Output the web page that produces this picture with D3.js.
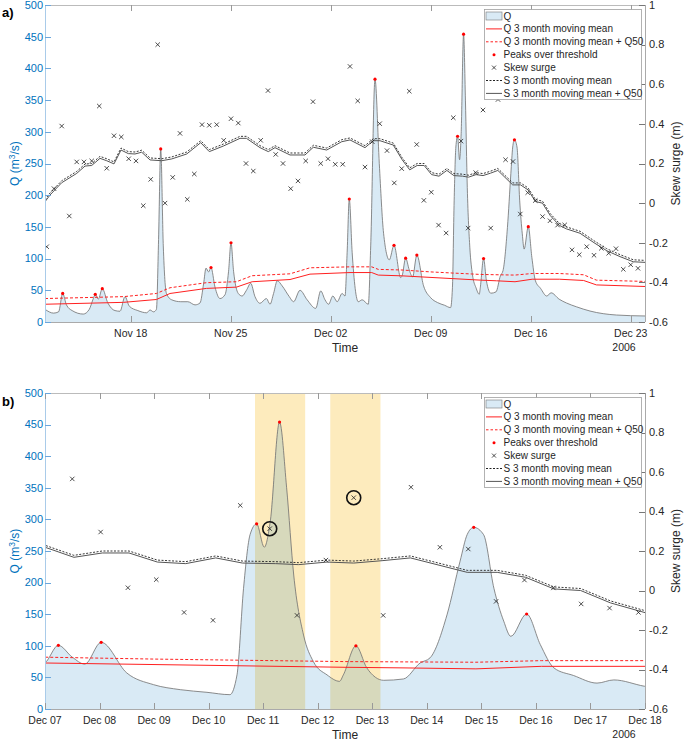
<!DOCTYPE html>
<html><head><meta charset="utf-8">
<script src="https://cdn.jsdelivr.net/npm/d3@7"></script>
<style>body{margin:0;background:#fff}svg text{font-family:"Liberation Sans",Arial,Helvetica,sans-serif}</style>
</head><body><svg id="c" width="685" height="741"></svg>
<script>
// ---------- DATA (day offsets from 2006-11-12 00:00 UTC) ----------
const qSeries = [[0,20],[0.6,14],[0.95,16],[1.24,45],[1.5,27],[1.9,18],[2.68,12.5],[3.1,20],[3.35,35],[3.52,43.6],[3.73,36],[4.01,52.5],[4.4,30],[4.9,18],[5.25,17],[5.6,40],[5.9,25],[6.5,18],[7.12,14.5],[7.35,19],[7.6,16],[7.8,20],[7.95,130],[8.1,273],[8.28,120],[8.5,45],[8.87,35],[9.5,32],[10.0,32],[10.5,27],[10.85,30],[11.1,60],[11.27,85],[11.45,79],[11.62,86],[11.9,55],[12.25,37],[12.6,43],[12.85,80],[13.02,125],[13.2,80],[13.53,45],[13.8,41],[14.1,50],[14.4,61],[14.7,40],[15.05,29.5],[15.5,37],[15.75,28],[16.0,45],[16.26,65],[16.6,57],[17.1,40],[17.4,32],[17.85,50],[18.35,35],[18.95,21.5],[19.3,49],[19.6,35],[19.85,28],[20.15,41],[20.45,32],[20.8,45],[21.0,41],[21.15,110],[21.3,194],[21.5,110],[21.93,32],[22.2,35],[22.63,28],[22.8,120],[23.1,383],[23.4,250],[23.7,140],[24.1,98],[24.43,121],[24.9,70],[25.0,73],[25.245,100.7],[25.5,82],[25.73,71],[26.03,105.5],[26.5,57],[26.99,38.5],[27.48,30.6],[27.97,26.4],[28.39,22.7],[28.52,54],[28.64,191],[28.76,276],[28.88,293],[29.02,256],[29.13,297],[29.3,454],[29.43,350],[29.56,212],[29.74,117],[29.92,75],[30.17,54],[30.4,43.8],[30.47,54],[30.7,100],[30.9,65],[31.21,45.4],[31.57,47.5],[31.88,73],[32.06,81],[32.37,149],[32.61,234],[32.74,276],[32.86,287.4],[33.04,276],[33.23,191],[33.41,139],[33.54,115],[33.83,150.3],[34.08,102],[34.33,65],[34.69,53],[35.12,41],[35.43,46],[35.99,36],[36.5,30],[37.2,24],[38.15,17.3],[40.0,11],[42,9.5]];
const qPeaks = [[1.24,45],[3.52,43.6],[4.01,52.5],[8.1,273],[11.62,86],[13.02,125],[21.3,194],[23.1,383],[24.43,121],[25.245,100.7],[26.03,105.5],[28.88,293],[29.3,454],[30.7,100],[32.86,287.4],[33.83,150.3]];
const qMean = [[0,28],[5.5,31],[7.8,35.5],[8.75,45],[11.3,53],[13.4,55],[14.5,63.5],[17.15,67],[18.55,75.5],[21.35,78],[22.87,78],[23.33,74],[25,72.8],[30.5,66],[31.6,65],[32.9,63.5],[34.1,67.5],[36,67.5],[37.7,65.5],[38.6,58.5],[42,56]];
const qMeanQ50 = [[0,37],[5.5,40],[7.8,45],[8.75,54],[11.3,62],[13.4,63.5],[14.5,73],[17.15,76],[18.55,85.5],[21.35,87],[22.87,87],[23.33,83],[25,82],[27,79],[30.5,75],[32.9,74],[34.1,76.5],[36,76.5],[37.7,74.5],[38.6,66],[42,64]];
const skewSurge = [[0.12,-0.22],[0.63,0.073],[1.17,0.389],[1.70,-0.065],[2.22,0.208],[2.73,0.208],[3.27,0.213],[3.80,0.49],[4.32,0.176],[4.83,0.34],[5.34,0.334],[5.86,0.224],[6.37,0.213],[6.88,-0.013],[7.4,0.12],[7.89,0.8],[8.4,0.0],[8.94,0.13],[9.45,0.352],[9.96,0.019],[10.45,0.147],[10.99,0.396],[11.5,0.393],[12.02,0.396],[12.51,0.317],[13.02,0.426],[13.53,0.404],[14.07,0.2],[14.58,0.162],[15.1,0.317],[15.61,0.568],[16.15,0.246],[16.66,0.2],[17.2,0.073],[17.71,0.112],[18.25,0.213],[18.76,0.512],[19.3,0.2],[19.81,0.224],[20.32,0.196],[20.84,0.196],[21.35,0.69],[21.89,0.516],[22.4,0.182],[22.91,0.31],[23.43,0.401],[23.94,0.265],[24.45,0.102],[24.97,0.174],[25.5,0.565],[26.02,0.296],[26.52,0.014],[27.04,0.055],[27.55,-0.111],[28.08,-0.151],[28.58,0.431],[29.12,0.313],[29.62,-0.126],[30.15,0.154],[30.66,0.47],[31.2,-0.126],[31.71,0.523],[32.24,0.219],[32.76,0.21],[33.27,-0.055],[33.79,0.053],[34.32,0.013],[34.83,-0.068],[35.35,-0.089],[35.88,-0.111],[36.38,-0.11],[36.89,-0.236],[37.4,-0.26],[37.92,-0.22],[38.43,-0.263],[38.94,-0.228],[39.46,-0.253],[39.97,-0.23],[40.48,-0.334],[41.0,-0.311],[41.51,-0.329]];
const sMeanQ50 = [[0,0.007],[0.35,0.041],[1.17,0.103],[2.22,0.15],[2.8,0.187],[3.27,0.19],[3.85,0.226],[4.32,0.214],[4.83,0.198],[5.32,0.268],[5.83,0.25],[6.3,0.248],[6.77,0.257],[7.35,0.218],[8.17,0.214],[8.87,0.223],[9.92,0.248],[10.9,0.305],[11.5,0.26],[12.48,0.288],[13.65,0.327],[14.1,0.327],[15.05,0.28],[15.63,0.26],[16.1,0.28],[17.15,0.243],[18.2,0.243],[18.78,0.282],[19.72,0.268],[20.77,0.31],[21.35,0.319],[22.4,0.28],[22.98,0.315],[23.45,0.315],[24.38,0.293],[25.0,0.219],[25.53,0.168],[26.05,0.19],[26.54,0.19],[27.06,0.144],[27.58,0.136],[28.13,0.165],[28.62,0.139],[29.23,0.136],[29.65,0.131],[30.17,0.144],[30.66,0.139],[31.18,0.151],[31.7,0.165],[32.74,0.092],[33.29,0.092],[33.81,0.067],[34.33,0.008],[34.82,0.0],[35.37,-0.063],[36.0,-0.112],[36.5,-0.13],[37.45,-0.152],[38.5,-0.203],[39.32,-0.24],[40.25,-0.27],[41.18,-0.296],[42,-0.299]];
const sMean = [[0,0.017],[0.35,0.051],[1.17,0.113],[2.22,0.16],[2.8,0.197],[3.27,0.2],[3.85,0.236],[4.32,0.224],[4.83,0.208],[5.32,0.278],[5.83,0.26],[6.3,0.258],[6.77,0.267],[7.35,0.228],[8.17,0.224],[8.87,0.233],[9.92,0.258],[10.9,0.315],[11.5,0.27],[12.48,0.298],[13.65,0.337],[14.1,0.337],[15.05,0.29],[15.63,0.27],[16.1,0.29],[17.15,0.253],[18.2,0.253],[18.78,0.292],[19.72,0.278],[20.77,0.32],[21.35,0.329],[22.4,0.29],[22.98,0.325],[23.45,0.325],[24.38,0.303],[25.0,0.229],[25.53,0.178],[26.05,0.2],[26.54,0.2],[27.06,0.154],[27.58,0.146],[28.13,0.175],[28.62,0.149],[29.23,0.146],[29.65,0.141],[30.17,0.154],[30.66,0.149],[31.18,0.161],[31.7,0.175],[32.74,0.102],[33.29,0.102],[33.81,0.077],[34.33,0.018],[34.82,0.01],[35.37,-0.053],[36.0,-0.102],[36.5,-0.12],[37.45,-0.142],[38.5,-0.193],[39.32,-0.23],[40.25,-0.26],[41.18,-0.286],[42,-0.289]];
const highlights = [[28.85,29.77],[30.23,31.15]];
const circled = [[29.12,0.313],[30.66,0.47]];
const qTicks = [0,50,100,150,200,250,300,350,400,450,500];
const sTicks = [-0.6,-0.4,-0.2,0,0.2,0.4,0.6,0.8,1];
const xTicksA = ["2006-11-18","2006-11-25","2006-12-02","2006-12-09","2006-12-16","2006-12-23"];
const xTicksB = ["2006-12-07","2006-12-08","2006-12-09","2006-12-10","2006-12-11","2006-12-12","2006-12-13","2006-12-14","2006-12-15","2006-12-16","2006-12-17","2006-12-18"];
const legendLabels = ["Q","Q 3 month moving mean","Q 3 month moving mean + Q50","Peaks over threshold","Skew surge","S 3 month moving mean","S 3 month moving mean + Q50"];

// ---------- DRAW ----------
const svg = d3.select('#c');
const T0 = Date.UTC(2006,10,12), DAY = 864e5;
const dt = d => new Date(T0 + d*DAY);
const BLUE = '#0072BD';
const fmtX = d3.utcFormat('%b %d');
const parseD = d3.utcParse('%Y-%m-%d');

const panels = [
  {id:'a', label:'a)', top:5, bottom:322, d0:0, d1:42, ticks:xTicksA, hl:false, labelY:12},
  {id:'b', label:'b)', top:393, bottom:709, d0:25, d1:36, ticks:xTicksB, hl:true, labelY:401}
];
const L = 45, R = 645;

panels.forEach(p => {
  const x = d3.scaleUtc().domain([dt(p.d0), dt(p.d1)]).range([L, R]);
  const yQ = d3.scaleLinear().domain([0,500]).range([p.bottom, p.top]);
  const yS = d3.scaleLinear().domain([-0.6,1]).range([p.bottom, p.top]);
  const X = d => x(dt(d[0]));
  const g = svg.append('g');
  svg.append('clipPath').attr('id','clip'+p.id).append('rect')
     .attr('x',L).attr('y',p.top).attr('width',R-L).attr('height',p.bottom-p.top);
  const plot = g.append('g').attr('clip-path',`url(#clip${p.id})`);

  if (p.hl) {
    plot.selectAll('rect.hl').data(highlights).enter().append('rect')
      .attr('x', d=>x(dt(d[0]))).attr('width', d=>x(dt(d[1]))-x(dt(d[0])))
      .attr('y',p.top).attr('height',p.bottom-p.top).attr('fill','#fdebbd');
  }
  const area = d3.area().x(X).y0(yQ(0)).y1(d=>yQ(d[1])).curve(d3.curveMonotoneX);
  const qline = d3.line().x(X).y(d=>yQ(d[1])).curve(d3.curveMonotoneX);
  plot.append('path').datum(qSeries).attr('d',area).attr('fill','rgb(0,114,189)').attr('fill-opacity',0.15);
  plot.append('path').datum(qSeries).attr('d',qline).attr('fill','none').attr('stroke','#6e6e6e').attr('stroke-width',0.8);

  const lq = d3.line().x(X).y(d=>yQ(d[1]));
  plot.append('path').datum(qMean).attr('d',lq).attr('fill','none').attr('stroke','#ff2020').attr('stroke-width',1);
  plot.append('path').datum(qMeanQ50).attr('d',lq).attr('fill','none').attr('stroke','#ff2020').attr('stroke-width',1).attr('stroke-dasharray','3,2');
  plot.selectAll('circle.pk').data(qPeaks).enter().append('circle')
    .attr('cx',X).attr('cy',d=>yQ(d[1])).attr('r',1.6).attr('fill','#ff0000');

  const ls = d3.line().x(X).y(d=>yS(d[1]));
  plot.append('path').datum(sMeanQ50).attr('d',ls).attr('fill','none').attr('stroke','#555').attr('stroke-width',1);
  plot.append('path').datum(sMean).attr('d',ls).attr('fill','none').attr('stroke','#222').attr('stroke-width',0.9).attr('stroke-dasharray','2,1.5');

  const cs = 2.2;
  plot.selectAll('path.x').data(skewSurge).enter().append('path')
    .attr('d', d => {const cx=X(d), cy=yS(d[1]); return `M${cx-cs},${cy-cs}L${cx+cs},${cy+cs}M${cx-cs},${cy+cs}L${cx+cs},${cy-cs}`;})
    .attr('stroke','#222').attr('stroke-width',0.8).attr('fill','none');
  if (p.hl) {
    plot.selectAll('circle.cc').data(circled).enter().append('circle')
      .attr('cx',X).attr('cy',d=>yS(d[1])).attr('r',7).attr('fill','none').attr('stroke','#111').attr('stroke-width',1.6);
  }

  // frame
  g.append('line').attr('x1',L).attr('x2',R).attr('y1',p.top+0.5).attr('y2',p.top+0.5).attr('stroke','#bbb');
  g.append('line').attr('x1',L).attr('x2',R).attr('y1',p.bottom+0.5).attr('y2',p.bottom+0.5).attr('stroke','#aaa');
  g.append('line').attr('x1',L+0.5).attr('x2',L+0.5).attr('y1',p.top).attr('y2',p.bottom).attr('stroke','#a9cbe9');
  g.append('line').attr('x1',R+0.5).attr('x2',R+0.5).attr('y1',p.top).attr('y2',p.bottom).attr('stroke','#aaa');

  // x ticks
  const xt = p.ticks.map(parseD);
  xt.forEach(t => {
    const xx = Math.round(x(t))+0.5;
    g.append('line').attr('x1',xx).attr('x2',xx).attr('y1',p.bottom).attr('y2',p.bottom-6).attr('stroke','#999');
    g.append('line').attr('x1',xx).attr('x2',xx).attr('y1',p.top).attr('y2',p.top+6).attr('stroke','#999');
    g.append('text').attr('x',x(t)).attr('y',p.bottom+15).attr('text-anchor','middle')
      .attr('font-size',10.5).attr('fill','#262626').text(fmtX(t));
  });
  // left ticks
  qTicks.forEach(v => {
    const yy = Math.round(yQ(v))+0.5;
    g.append('line').attr('x1',L).attr('x2',L+6).attr('y1',yy).attr('y2',yy).attr('stroke','#6aa6dc');
    g.append('text').attr('x',L-2).attr('y',yQ(v)).attr('dy','0.35em').attr('text-anchor','end')
      .attr('font-size',11).attr('fill',BLUE).text(v);
  });
  // right ticks
  sTicks.forEach(v => {
    const yy = Math.round(yS(v))+0.5;
    g.append('line').attr('x1',R).attr('x2',R-6).attr('y1',yy).attr('y2',yy).attr('stroke','#777');
    g.append('text').attr('x',R+4).attr('y',yS(v)).attr('dy','0.35em').attr('text-anchor','start')
      .attr('font-size',11).attr('fill','#262626').text(String(+v.toFixed(1)));
  });
  const cy = (p.top+p.bottom)/2;
  const ql = g.append('text').attr('transform',`translate(19,${cy}) rotate(-90)`).attr('text-anchor','middle')
    .attr('font-size',12).attr('fill',BLUE);
  ql.append('tspan').text('Q (m');
  ql.append('tspan').attr('dy',-4).attr('font-size',8.5).text('3');
  ql.append('tspan').attr('dy',4).text('/s)');
  g.append('text').attr('transform',`translate(680,${cy}) rotate(-90)`).attr('text-anchor','middle')
    .attr('font-size',12).attr('fill','#262626').text('Skew surge (m)');
  g.append('text').attr('x',345).attr('y',p.bottom+29.5).attr('text-anchor','middle').attr('font-size',12).attr('fill','#262626').text('Time');
  g.append('text').attr('x',624).attr('y',p.bottom+28.5).attr('text-anchor','middle').attr('font-size',10.5).attr('fill','#262626').text('2006');
  g.append('text').attr('x',2).attr('y',p.labelY).attr('dy','0.35em').attr('font-size',13).attr('font-weight','bold').attr('fill','#000').text(p.label);

  // legend
  const lg = g.append('g');
  const lx = 484.5, ly = p.top+4.5;
  lg.append('rect').attr('x',lx).attr('y',ly).attr('width',157).attr('height',90).attr('fill','#fff').attr('stroke','#a0a0a0').attr('stroke-width',0.8);
  legendLabels.forEach((t,i) => {
    const yy = p.top + 11 + i*12.9;
    const ix0 = 486, ix1 = 502, mx = 494;
    if (i===0) lg.append('rect').attr('x',ix0).attr('y',yy-4).attr('width',16).attr('height',8).attr('fill','rgb(0,114,189)').attr('fill-opacity',0.15).attr('stroke','#777').attr('stroke-width',0.6);
    if (i===1) lg.append('line').attr('x1',ix0).attr('x2',ix1).attr('y1',yy).attr('y2',yy).attr('stroke','#ff2020');
    if (i===2) lg.append('line').attr('x1',ix0).attr('x2',ix1).attr('y1',yy).attr('y2',yy).attr('stroke','#ff2020').attr('stroke-dasharray','2.5,2');
    if (i===3) lg.append('circle').attr('cx',mx).attr('cy',yy).attr('r',1.5).attr('fill','#ff0000');
    if (i===4) lg.append('path').attr('d',`M${mx-2},${yy-2}L${mx+2},${yy+2}M${mx-2},${yy+2}L${mx+2},${yy-2}`).attr('stroke','#222').attr('stroke-width',0.8);
    if (i===5) lg.append('line').attr('x1',ix0).attr('x2',ix1).attr('y1',yy).attr('y2',yy).attr('stroke','#222').attr('stroke-dasharray','2,1.5');
    if (i===6) lg.append('line').attr('x1',ix0).attr('x2',ix1).attr('y1',yy).attr('y2',yy).attr('stroke','#555');
    lg.append('text').attr('x',503.5).attr('y',yy).attr('dy','0.35em').attr('font-size',10).attr('fill','#262626').text(t);
  });
});
</script></body></html>
